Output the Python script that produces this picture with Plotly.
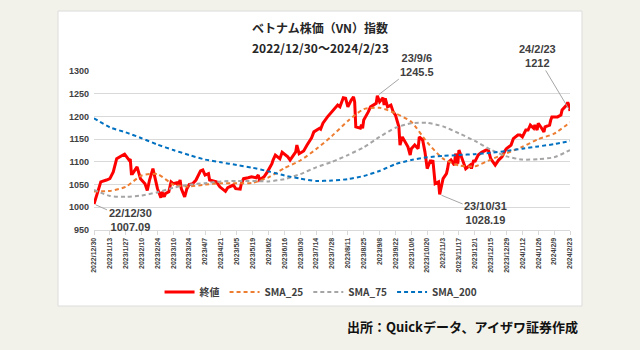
import plotly.graph_objects as go

# ---- data ----
close_dates = [
    "2022-12-30", "2023-01-03", "2023-01-04", "2023-01-05", "2023-01-10", "2023-01-13", "2023-01-16",
    "2023-01-19", "2023-01-23", "2023-01-26", "2023-01-30", "2023-01-31", "2023-02-01", "2023-02-02",
    "2023-02-06", "2023-02-07", "2023-02-09", "2023-02-13", "2023-02-15", "2023-02-17", "2023-02-20",
    "2023-02-22", "2023-02-24", "2023-02-27", "2023-02-28", "2023-03-02", "2023-03-03", "2023-03-06",
    "2023-03-08", "2023-03-10", "2023-03-13", "2023-03-14", "2023-03-16", "2023-03-17", "2023-03-20",
    "2023-03-22", "2023-03-24", "2023-03-27", "2023-03-30", "2023-04-03", "2023-04-05", "2023-04-07",
    "2023-04-10", "2023-04-11", "2023-04-17", "2023-04-20", "2023-04-25", "2023-04-27", "2023-05-02",
    "2023-05-04", "2023-05-08", "2023-05-09", "2023-05-11", "2023-05-15", "2023-05-18", "2023-05-22",
    "2023-05-24", "2023-05-25", "2023-05-29", "2023-06-01", "2023-06-05", "2023-06-06", "2023-06-08",
    "2023-06-12", "2023-06-14", "2023-06-19", "2023-06-21", "2023-06-26", "2023-06-27", "2023-06-29",
    "2023-07-03", "2023-07-06", "2023-07-10", "2023-07-12", "2023-07-17", "2023-07-18", "2023-07-20",
    "2023-07-24", "2023-07-27", "2023-07-31", "2023-08-02", "2023-08-04", "2023-08-07", "2023-08-09",
    "2023-08-11", "2023-08-14", "2023-08-16", "2023-08-17", "2023-08-18", "2023-08-22", "2023-08-23",
    "2023-08-24", "2023-08-25", "2023-08-29", "2023-08-31", "2023-09-05", "2023-09-06", "2023-09-08",
    "2023-09-11", "2023-09-12", "2023-09-13", "2023-09-15", "2023-09-18", "2023-09-20", "2023-09-22",
    "2023-09-25", "2023-09-26", "2023-09-28", "2023-09-29", "2023-10-03", "2023-10-05", "2023-10-06",
    "2023-10-09", "2023-10-12", "2023-10-13", "2023-10-16", "2023-10-18", "2023-10-20", "2023-10-23",
    "2023-10-24", "2023-10-25", "2023-10-27", "2023-10-30", "2023-10-31", "2023-11-03", "2023-11-06",
    "2023-11-07", "2023-11-08", "2023-11-10", "2023-11-13", "2023-11-14", "2023-11-16", "2023-11-17",
    "2023-11-20", "2023-11-21", "2023-11-23", "2023-11-27", "2023-11-28", "2023-11-30", "2023-12-01",
    "2023-12-04", "2023-12-07", "2023-12-11", "2023-12-13", "2023-12-15", "2023-12-19", "2023-12-22",
    "2023-12-25", "2023-12-28", "2023-12-29", "2024-01-02", "2024-01-04", "2024-01-08", "2024-01-10",
    "2024-01-12", "2024-01-15", "2024-01-17", "2024-01-19", "2024-01-22", "2024-01-23", "2024-01-25",
    "2024-01-26", "2024-01-29", "2024-01-31", "2024-02-01", "2024-02-05", "2024-02-06", "2024-02-07",
    "2024-02-12", "2024-02-15", "2024-02-16", "2024-02-20", "2024-02-21", "2024-02-22", "2024-02-23",
]
close_values = [
    1007.09, 1043, 1052, 1056, 1060, 1063, 1078,
    1107, 1113, 1117, 1104, 1106, 1074, 1074,
    1089, 1078, 1063, 1052, 1037, 1060, 1085,
    1063, 1041, 1021, 1034, 1023, 1030, 1034,
    1056, 1052, 1054, 1049, 1060, 1041, 1023,
    1041, 1050, 1052, 1060, 1080, 1082, 1071,
    1074, 1060, 1056, 1045, 1035, 1043, 1049,
    1041, 1040, 1052, 1063, 1065, 1067, 1065,
    1071, 1060, 1067, 1078, 1096, 1104, 1115,
    1107, 1121, 1111, 1104, 1122, 1137, 1118,
    1124, 1137, 1153, 1166, 1174, 1172, 1185,
    1199, 1207, 1218, 1225, 1221, 1241, 1240,
    1221, 1236, 1243, 1232, 1177, 1174, 1182,
    1174, 1192, 1210, 1221, 1229, 1245.5, 1232,
    1241, 1225, 1240, 1221, 1225, 1210, 1203,
    1177, 1137, 1155, 1151, 1133, 1115, 1129,
    1137, 1129, 1155, 1148, 1122, 1085, 1104,
    1096, 1104, 1052, 1056, 1028.19, 1063, 1074,
    1085, 1100, 1104, 1093, 1118, 1096, 1126,
    1104, 1100, 1085, 1093, 1085, 1104, 1100,
    1115, 1121, 1126, 1126, 1107, 1093, 1104,
    1111, 1126, 1129, 1137, 1151, 1159, 1159,
    1155, 1170, 1170, 1181, 1174, 1181, 1170,
    1185, 1174, 1166, 1177, 1181, 1192, 1199,
    1199, 1203, 1214, 1225, 1231, 1225, 1212,
]

sma_dates = [
    "2022-12-30", "2023-01-13", "2023-01-27", "2023-02-10", "2023-02-24", "2023-03-10", "2023-03-24",
    "2023-04-07", "2023-04-21", "2023-05-05", "2023-05-19", "2023-06-02", "2023-06-16", "2023-06-30",
    "2023-07-14", "2023-07-28", "2023-08-11", "2023-08-25", "2023-09-08", "2023-09-22", "2023-10-06",
    "2023-10-20", "2023-11-03", "2023-11-17", "2023-12-01", "2023-12-15", "2023-12-29", "2024-01-12",
    "2024-01-26", "2024-02-09", "2024-02-23",
]
sma25 = [1035, 1036, 1045, 1070, 1073, 1050, 1046, 1050, 1053, 1053, 1054, 1066, 1086, 1103,
         1128, 1157, 1190, 1216, 1219, 1207, 1188, 1143, 1107, 1092, 1090, 1105, 1119, 1133,
         1150, 1162, 1187]
sma75 = [1038, 1025, 1023, 1026, 1033, 1043, 1050, 1053, 1057, 1058, 1058, 1057, 1062, 1073,
         1088, 1100, 1115, 1132, 1155, 1175, 1185, 1186, 1178, 1163, 1146, 1127, 1112, 1105,
         1106, 1110, 1126]
sma200 = [1196, 1176, 1165, 1152, 1138, 1126, 1115, 1105, 1099, 1093, 1087, 1079, 1070, 1063,
          1058, 1059, 1062, 1069, 1080, 1095, 1104, 1110, 1113, 1115, 1117, 1120, 1124, 1129,
          1134, 1139, 1146]

tick_labels = [
    "2022/12/30", "2023/1/13", "2023/1/27", "2023/2/10", "2023/2/24", "2023/3/10", "2023/3/24",
    "2023/4/7", "2023/4/21", "2023/5/5", "2023/5/19", "2023/6/2", "2023/6/16", "2023/6/30",
    "2023/7/14", "2023/7/28", "2023/8/11", "2023/8/25", "2023/9/8", "2023/9/22", "2023/10/6",
    "2023/10/20", "2023/11/3", "2023/11/17", "2023/12/1", "2023/12/15", "2023/12/29", "2024/1/12",
    "2024/1/26", "2024/2/9", "2024/2/23",
]

FONT = "Noto Sans CJK JP, Noto Sans, sans-serif"
LATIN = "Liberation Sans, Arial, sans-serif"
TXT = "#404040"

fig = go.Figure()
fig.add_trace(go.Scatter(x=close_dates, y=close_values, mode="lines", name="終値",
                         line=dict(color="#ff0000", width=3)))
fig.add_trace(go.Scatter(x=sma_dates, y=sma25, mode="lines", name="SMA_25",
                         line=dict(color="#ed7d31", width=2, dash="4px,3px", shape="spline", smoothing=0.6)))
fig.add_trace(go.Scatter(x=sma_dates, y=sma75, mode="lines", name="SMA_75",
                         line=dict(color="#a5a5a5", width=2, dash="4px,3px", shape="spline", smoothing=0.6)))
fig.add_trace(go.Scatter(x=sma_dates, y=sma200, mode="lines", name="SMA_200",
                         line=dict(color="#0070c0", width=2, dash="4px,3px", shape="spline", smoothing=0.6)))

# white card behind the chart
fig.add_shape(type="rect", xref="paper", yref="paper", x0=-0.0756, x1=1.0252, y0=-0.478, y1=1.377,
              fillcolor="white", line=dict(color="#dcdcdc", width=1), layer="below")

ann_font = dict(family=LATIN, size=11, color=TXT, weight="bold")
callouts = [
    (close_dates[0], close_values[0], "22/12/30<br>1007.09", 36, 16),
    ("2023-09-06", 1245.5, "23/9/6<br>1245.5", 40, -31),
    ("2023-10-31", 1028.19, "23/10/31<br>1028.19", 46, 19),
    (close_dates[-1], close_values[-1], "24/2/23<br>1212", -33, -55),
]
for x, y, t, ax, ay in callouts:
    fig.add_annotation(x=x, y=y, xref="x", yref="y", text=t, showarrow=True, arrowhead=0,
                       arrowwidth=1, arrowcolor="#a6a6a6", ax=ax, ay=ay, font=ann_font, standoff=2)

fig.add_annotation(xref="paper", yref="paper", x=0.475, y=1.273, xanchor="center", yanchor="middle",
                   text="ベトナム株価（VN）指数", showarrow=False,
                   font=dict(family=FONT, size=12, color="#262626", weight="bold"))
fig.add_annotation(xref="paper", yref="paper", x=0.475, y=1.146, xanchor="center", yanchor="middle",
                   text="2022/12/30～2024/2/23", showarrow=False,
                   font=dict(family=FONT, size=12, color="#262626", weight="bold"))
fig.add_annotation(xref="paper", yref="paper", x=1.021, y=-0.61, xanchor="right", yanchor="middle",
                   text="出所：Quickデータ、アイザワ証券作成", showarrow=False,
                   font=dict(family=FONT, size=13, color="#111111", weight="bold"))

fig.update_layout(
    width=640, height=350,
    margin=dict(l=94, r=70, t=71, b=120, autoexpand=False),
    paper_bgcolor="#f3f2ea",
    plot_bgcolor="rgba(0,0,0,0)",
    font=dict(family=FONT, color=TXT),
    showlegend=True,
    legend=dict(orientation="h", x=0.477, xanchor="center", y=-0.39, yanchor="middle",
                font=dict(family=FONT, size=10, color=TXT, weight="bold"),
                bgcolor="rgba(0,0,0,0)", itemwidth=30, tracegroupgap=0),
    xaxis=dict(type="date", range=["2022-12-30", "2024-02-23"], tickvals=sma_dates, ticktext=tick_labels,
               tickangle=-90, tickfont=dict(family=LATIN, size=7, color=TXT, weight="bold"),
               showgrid=False, showline=True, linecolor="#d9d9d9", ticks="outside", ticklen=4,
               tickcolor="#d9d9d9", zeroline=False),
    yaxis=dict(range=[950, 1300], dtick=50, tick0=950, showgrid=True, gridcolor="#d9d9d9",
               zeroline=False, showline=False,
               tickfont=dict(family=LATIN, size=9, color=TXT, weight="bold"), ticklabelstandoff=4),
)

fig.write_html("out.html")
